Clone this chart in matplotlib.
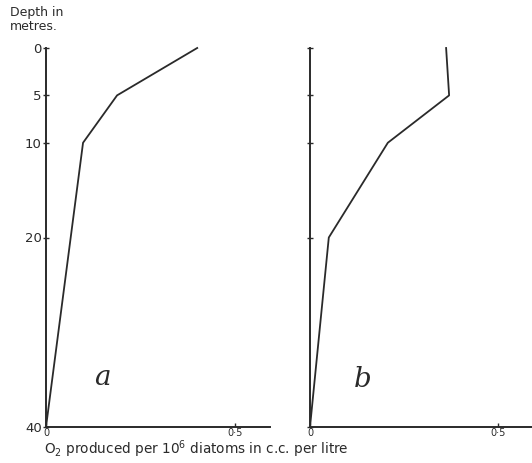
import matplotlib
matplotlib.use("Agg")
import matplotlib.pyplot as plt

# Data (depth in metres, O2 produced per 10^6 diatoms in c.c. per litre)
depth_a = [40, 10, 5, 0]
o2_a = [0.0, 0.098, 0.188, 0.40]

depth_b = [40, 20, 10, 5, 0]
o2_b = [0.0, 0.05, 0.207, 0.370, 0.362]

depth_ticks = [0, 5, 10, 20, 40]
depth_labels = ["0", "5", "10", "20", "40"]
x_ticks = [0, 0.5]
x_labels = ["0", "0·5"]

W, H = 532, 463
fig = plt.figure(figsize=(W / 100, H / 100), dpi=100)
fig.patch.set_facecolor("white")

col = "#2a2a2a"

def make_ax(left_px, right_px, xmax):
    top_px, bot_px = 48, 427
    ax = fig.add_axes([left_px / W, (H - bot_px) / H,
                       (right_px - left_px) / W, (bot_px - top_px) / H])
    ax.set_xlim(0, xmax)
    ax.set_ylim(40, 0)
    for s in ("top", "right"):
        ax.spines[s].set_visible(False)
    for s in ("left", "bottom"):
        ax.spines[s].set_linewidth(1.4)
        ax.spines[s].set_color(col)
    ax.set_facecolor("none")
    ax.set_yticks(depth_ticks)
    ax.set_xticks(x_ticks)
    ax.tick_params(axis="y", direction="inout", length=4, width=1.0,
                   colors=col, labelsize=9.5, pad=1)
    ax.tick_params(axis="x", direction="in", length=3, width=1.0,
                   colors=col, labelsize=7, pad=1)
    ax.set_xticklabels(x_labels)
    return ax

ax_a = make_ax(46, 270, 224 / 378)
ax_a.set_yticklabels(depth_labels)
ax_a.plot(o2_a, depth_a, color=col, lw=1.3, clip_on=False)
ax_a.text(0.15, 34.8, "a", fontsize=20, style="italic", family="DejaVu Serif",
          color=col, ha="center", va="center")

ax_b = make_ax(310, 532, 222 / 376)
ax_b.set_yticklabels([])
ax_b.plot(o2_b, depth_b, color=col, lw=1.3, clip_on=False)
ax_b.text(0.14, 35.0, "b", fontsize=20, style="italic", family="DejaVu Serif",
          color=col, ha="center", va="center")

fig.text(10 / W, 1 - 6 / H, "Depth in\nmetres.", fontsize=9, color=col,
         ha="left", va="top", linespacing=1.05)
fig.text(44 / W, 1 - 449 / H,
         r"O$_2$ produced per 10$^6$ diatoms in c.c. per litre",
         fontsize=9.8, color=col, ha="left", va="center")

fig.savefig("out.png", dpi=100, facecolor="white")
